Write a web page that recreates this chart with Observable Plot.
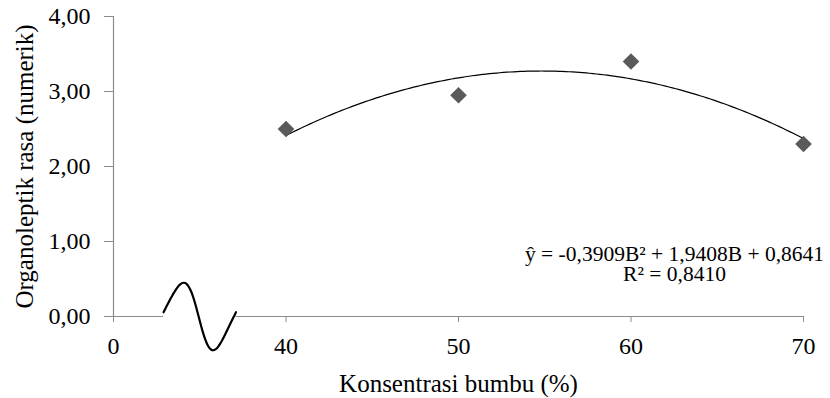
<!DOCTYPE html>
<html>
<head>
<meta charset="utf-8">
<script src="https://cdn.jsdelivr.net/npm/d3@7"></script>
<script src="https://cdn.jsdelivr.net/npm/@observablehq/plot@0.6"></script>
<style>
  html, body { margin: 0; padding: 0; background: #fff; }
  [aria-label="x title"], [aria-label="x title"] text { letter-spacing: 1.5px; }
</style>
</head>
<body>
<div id="chart"></div>
<script>
// Tick labels along the horizontal axis (0 sits before an axis break)
const xTickLabels = ["0", "40", "50", "60", "70"];
// Spice concentration (%) and mean taste score
const concentrations = ["40", "50", "60", "70"];
const tasteScores = [2.50, 2.95, 3.40, 2.30];
const yTicks = [0, 1, 2, 3, 4];
// Quadratic fit: ŷ = a·B² + b·B + c, with B the treatment index
const coefficients = [-0.3909, 1.9408, 0.8641];
const rSquared = 0.8410;
const xTitle = "Konsentrasi bumbu (%)";
const yTitle = "Organoleptik rasa (numerik)";
// Gap in the horizontal axis (in axis units) where the break wave is drawn
const axisBreak = [0.29, 0.71];

const axisGray = "#8c8c8c";
const comma = (v, d) => v.toFixed(d).replace(".", ",");

const points = concentrations.map((c, i) => ({B: xTickLabels.indexOf(c), score: tasteScores[i]}));
const [a, b, c] = coefficients;
const fit = d3.range(1, 4.0001, 0.02).map(B => ({B, y: a * B * B + b * B + c}));
const equation = `ŷ = ${comma(a, 4)}B² + ${comma(b, 4)}B + ${comma(c, 4)}\nR² = ${comma(rSquared, 4)}`;

// one wave of the break symbol, slightly leaning to the right
const [b0, b1] = axisBreak;
const breakWave = d3.range(0, 1.0001, 0.02).map(t => {
  const phase = t - 0.05 * Math.sin(2 * Math.PI * t);
  return {x: b0 + t * (b1 - b0), y: 0.45 * Math.sin(2 * Math.PI * (phase + 0.02))};
});
const axisSegments = [{x1: 0, x2: b0}, {x1: b1, x2: 4}];

const chart = Plot.plot({
  width: 830,
  height: 398,
  marginLeft: 113,
  marginRight: 27,
  marginTop: 16,
  marginBottom: 82,
  style: {
    fontFamily: "'Liberation Serif', 'Times New Roman', serif",
    fontSize: "24px",
    color: "#000",
    background: "#fff"
  },
  x: {domain: [0, 4]},
  y: {domain: [0, 4]},
  marks: [
    // axis lines
    Plot.ruleX([0], {y1: () => 0, y2: () => 4, stroke: axisGray, strokeWidth: 1.2}),
    Plot.ruleY(axisSegments, {y: () => 0, x1: "x1", x2: "x2", stroke: axisGray, strokeWidth: 1.2}),
    Plot.axisY({
      ticks: yTicks,
      tickFormat: d => comma(d, 2),
      tickSize: 9,
      tickPadding: 14,
      stroke: axisGray,
      fill: "#000",
      label: null
    }),
    Plot.axisX({
      ticks: [0, 1, 2, 3, 4],
      tickFormat: i => xTickLabels[i],
      tickSize: 6,
      tickPadding: 14,
      stroke: axisGray,
      fill: "#000",
      label: null
    }),
    // axis break wave
    Plot.line(breakWave, {x: "x", y: "y", stroke: "#000", strokeWidth: 2.2, curve: "natural"}),
    // fitted curve and observations
    Plot.line(fit, {x: "B", y: "y", stroke: "#000", strokeWidth: 1.2}),
    Plot.dot(points, {x: "B", y: "score", symbol: "diamond2", r: 7.5, fill: "#5a5a5a", stroke: "none"}),
    // equation of the fit
    Plot.text([equation], {
      frameAnchor: "bottom-right",
      dx: -129,
      dy: -36,
      lineAnchor: "bottom",
      lineHeight: 0.92,
      textAnchor: "middle",
      fontSize: 21.5,
      fill: "#000"
    }),
    // axis titles
    Plot.text([xTitle], {
      frameAnchor: "bottom", dy: 75, lineAnchor: "bottom", textAnchor: "middle",
      fontSize: 25, fill: "#000", ariaLabel: "x title"
    }),
    Plot.text([yTitle], {
      frameAnchor: "left", dx: -89, rotate: -90, lineAnchor: "middle", textAnchor: "middle",
      fontSize: 25, fill: "#000", ariaLabel: "y title"
    })
  ]
});

document.getElementById("chart").appendChild(chart);
</script>
</body>
</html>
